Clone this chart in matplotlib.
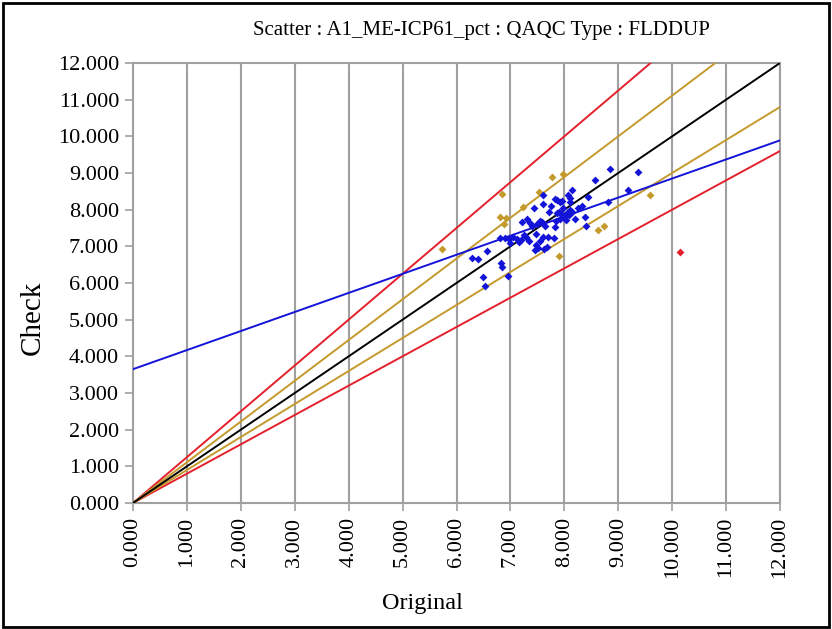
import matplotlib
matplotlib.use("Agg")
import matplotlib.pyplot as plt
import numpy as np
from matplotlib.patches import Rectangle

plt.rcParams['font.family'] = ['Liberation Serif', 'DejaVu Serif']

title = "Scatter : A1_ME-ICP61_pct : QAQC Type : FLDDUP"
x_label = "Original"
y_label = "Check"
tick_values = list(range(0, 13))
tick_labels = [f"{v:.3f}" for v in tick_values]

# Reference lines (slopes through origin)
ref_slopes_red = [1.25, 0.8]
ref_slopes_gold = [1.0 / 0.9, 0.9]
ref_slope_black = 1.0
# Regression line
reg_intercept = 3.65
reg_slope = 0.52

blue_x = [8.85, 9.36, 8.57, 9.18, 8.81, 8.14, 8.43, 8.32, 8.39, 8.40,
          7.61, 7.83, 7.92, 8.11, 7.61, 7.43, 7.72, 8.07, 8.10, 7.95,
          7.90, 7.95, 8.00, 8.05, 8.10, 7.98, 8.03, 7.92, 8.08, 8.15,
          7.85, 7.21, 7.37, 7.58, 7.83, 7.65, 6.81, 6.90, 6.98, 7.05,
          7.12, 7.20, 7.28, 7.00, 7.15, 7.48, 7.61, 7.80, 7.70, 7.47,
          7.52, 7.45, 7.62, 7.68, 6.57, 6.28, 6.39, 6.83, 6.84, 6.50,
          6.53, 6.95, 7.86, 7.86, 7.40, 7.50, 7.30, 7.55, 7.35, 7.55,
          8.20, 7.75, 8.25, 7.25]
blue_y = [9.10, 9.04, 8.82, 8.54, 8.22, 8.55, 8.34, 8.10, 7.80, 7.55,
          8.40, 8.28, 8.22, 8.31, 8.15, 8.05, 7.94, 8.40, 8.20, 8.25,
          7.95, 7.85, 7.80, 7.90, 8.00, 8.05, 7.72, 7.75, 7.85, 7.95,
          7.70, 7.67, 7.64, 7.67, 7.52, 7.55, 7.24, 7.22, 7.20, 7.25,
          7.20, 7.18, 7.25, 7.10, 7.12, 7.33, 7.26, 7.24, 7.25, 7.05,
          6.95, 6.90, 6.92, 6.98, 6.87, 6.67, 6.65, 6.54, 6.43, 6.17,
          5.93, 6.20, 8.26, 7.90, 7.55, 7.60, 7.75, 7.70, 7.15, 7.15,
          7.75, 8.10, 8.05, 7.30]

gold_x = [5.73, 6.84, 6.80, 6.92, 6.88, 7.24, 7.53, 7.77, 7.98, 7.91, 8.62, 8.73, 9.58]
gold_y = [6.92, 8.44, 7.79, 7.76, 7.62, 8.06, 8.49, 8.89, 8.98, 6.74, 7.44, 7.55, 8.39]

red_x = [10.14]
red_y = [6.85]

RED = "#e3202c"
GOLD = "#c49a2c"
BLUE = "#1414d8"
GRID = "#a0a0a0"

fig = plt.figure(figsize=(8.32, 6.29), dpi=100)
ax = fig.add_axes([133 / 832, 1 - 503 / 629, (780 - 133) / 832, (503 - 63) / 629])

xs = np.array([0.0, 12.0])
for s in ref_slopes_red:
    ax.plot(xs, s * xs, color=RED, lw=1.4, zorder=3)
for s in ref_slopes_gold:
    ax.plot(xs, s * xs, color=GOLD, lw=1.4, zorder=3)
ax.plot(xs, ref_slope_black * xs, color="black", lw=1.4, zorder=3)
ax.plot(xs, reg_intercept + reg_slope * xs, color=BLUE, lw=1.4, zorder=3)

ax.scatter(gold_x, gold_y, marker="D", s=16, color=GOLD, zorder=4, linewidths=0)
ax.scatter(blue_x, blue_y, marker="D", s=16, color=BLUE, zorder=5, linewidths=0)
ax.scatter(red_x, red_y, marker="D", s=16, color=RED, zorder=5, linewidths=0)

ax.set_xlim(0, 12)
ax.set_ylim(0, 12)
ax.set_xticks(tick_values)
ax.set_xticklabels(tick_labels, rotation=90, fontsize=16)
ax.set_yticks(tick_values)
ax.set_yticklabels(tick_labels, fontsize=16)
ax.xaxis.grid(True, color=GRID, lw=1.5)
ax.set_axisbelow(True)
ax.tick_params(axis="both", colors=GRID, length=6, width=1.2, labelcolor="black", pad=4)
for sp in ax.spines.values():
    sp.set_color(GRID)
    sp.set_linewidth(1.5)

fig.text(422 / 832, 1 - 603 / 629, x_label, ha="center", va="center", fontsize=17.5)
fig.text(33 / 832, 1 - 318 / 629, y_label, ha="center", va="center", fontsize=21, rotation=90)
fig.text(481 / 832, 1 - 30 / 629, title, ha="center", va="center", fontsize=15)

fig.patches.append(Rectangle((0.004, 0.003), 0.992, 0.992, transform=fig.transFigure,
                             fill=False, edgecolor="black", lw=2))

fig.savefig("out.png", dpi=100)
